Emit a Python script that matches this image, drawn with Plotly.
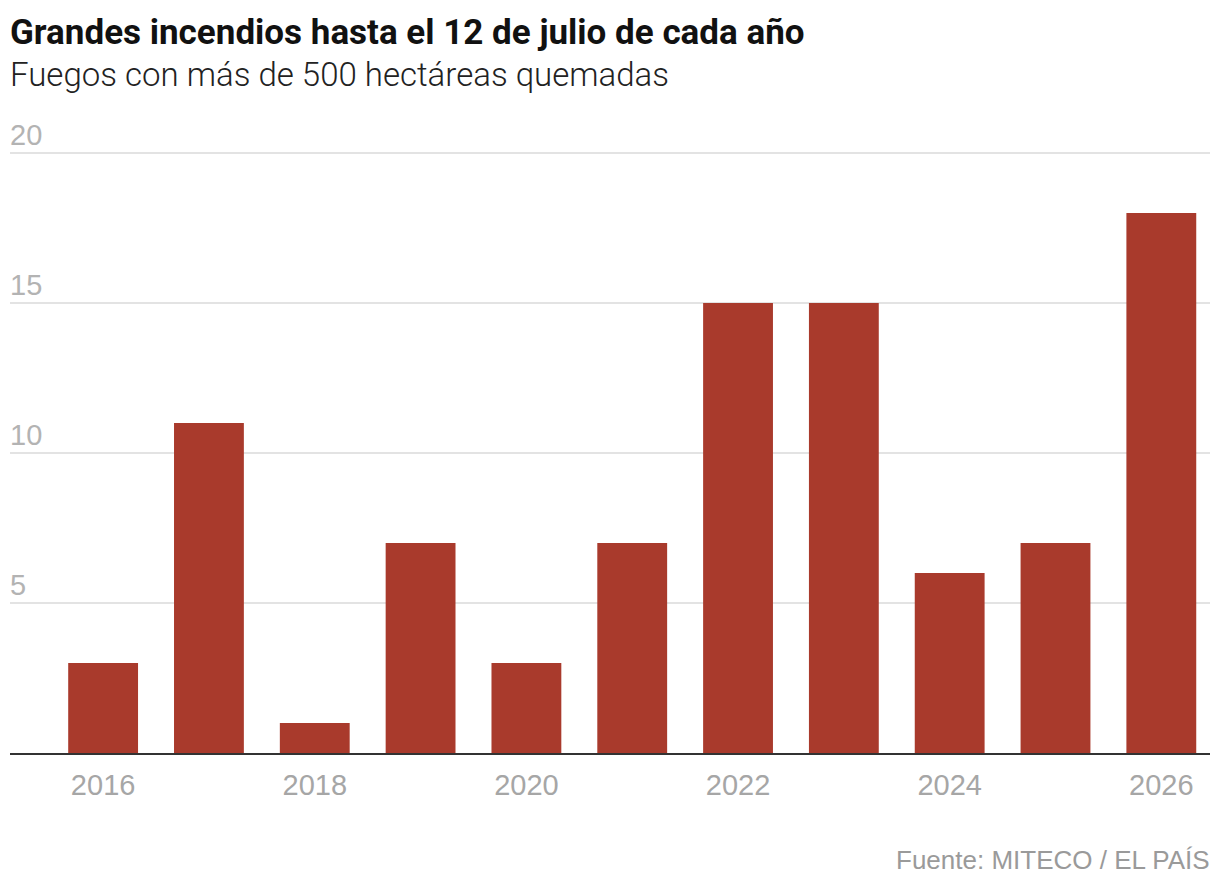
import plotly.graph_objects as go

years = [2016, 2017, 2018, 2019, 2020, 2021, 2022, 2023, 2024, 2025, 2026]
fires = [3, 11, 1, 7, 3, 7, 15, 15, 6, 7, 18]
y_ticks = [5, 10, 15, 20]
x_ticks = [2016, 2018, 2020, 2022, 2024, 2026]

title = "Grandes incendios hasta el 12 de julio de cada año"
subtitle = "Fuegos con más de 500 hectáreas quemadas"
source = "Fuente: MITECO / EL PAÍS"

fig = go.Figure(go.Bar(x=years, y=fires, marker=dict(color="#a93a2c", line=dict(width=0)), width=0.66))

TOP = 143  # margin top; range top extends above 20
fig.update_layout(
    width=1220, height=890,
    margin=dict(l=10, r=10, t=TOP, b=137),
    paper_bgcolor="white", plot_bgcolor="white",
    showlegend=False,
    font=dict(family="Liberation Sans, Arial, sans-serif", color="#999999"),
    xaxis=dict(range=[2015.12, 2026.46], tickvals=x_ticks, ticktext=[str(v) for v in x_ticks],
               showgrid=False, showline=True, linecolor="#333333", linewidth=2,
               ticks="", tickfont=dict(size=29, color="#a6a6a6"), ticklabelstandoff=5),
    yaxis=dict(range=[0, 20 + 10 / 30], tickvals=y_ticks, showgrid=True, gridcolor="#e3e3e3", gridwidth=1.5,
               zeroline=False, ticks="", showticklabels=False),
)

for v in y_ticks:
    fig.add_annotation(text=str(v), xref="paper", yref="y", x=0, y=v,
                       xanchor="left", yanchor="bottom", showarrow=False, xshift=-2, yshift=0,
                       font=dict(family="Liberation Sans, Arial, sans-serif", size=29, color="#b3b3b3"))

fig.add_annotation(text="<b>" + title + "</b>", xref="paper", yref="paper", x=0, y=1,
                   xanchor="left", yanchor="top", showarrow=False, xshift=-2,
                   yshift=TOP - 10, font=dict(family="Roboto, Liberation Sans, sans-serif", size=35, color="#111111"))
fig.add_annotation(text=subtitle, xref="paper", yref="paper", x=0, y=1,
                   xanchor="left", yanchor="top", showarrow=False, xshift=-2,
                   yshift=TOP - 53, font=dict(family="Roboto, Liberation Sans, sans-serif", size=33, weight=300, color="#222222"))
fig.add_annotation(text=source, xref="paper", yref="paper", x=1, y=0,
                   xanchor="right", yanchor="bottom", showarrow=False, xshift=2,
                   yshift=-137 + 13, font=dict(family="Liberation Sans, Arial, sans-serif", size=26, color="#9a9a9a"))

fig.write_html("out.html")
